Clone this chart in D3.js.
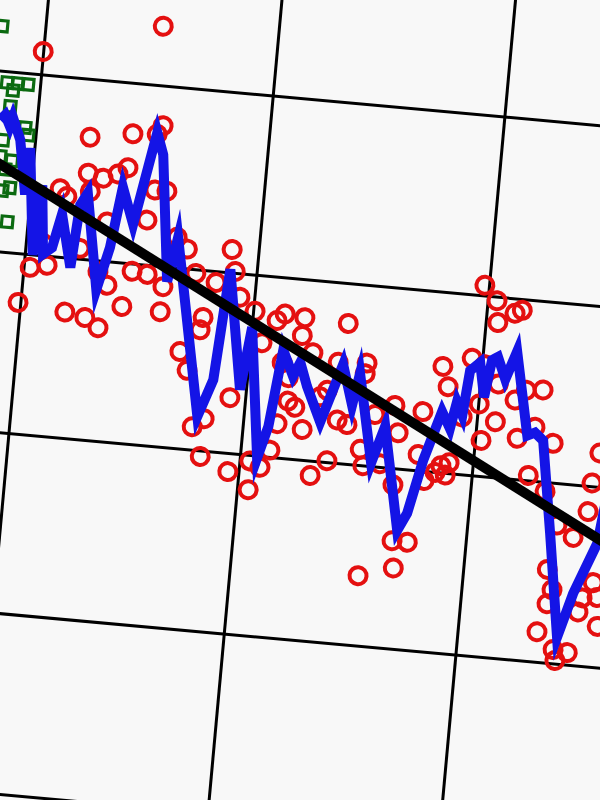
<!DOCTYPE html>
<html><head><meta charset="utf-8">
<script src="https://cdn.jsdelivr.net/npm/d3@7"></script>
<style>html,body{margin:0;padding:0;background:#f8f8f8;overflow:hidden}</style>
</head><body><svg id="c" width="600" height="800"></svg>
<script>
// grid ticks
const gridYears = [1850, 1900, 1950, 2000, 2050];
const gridValues = [-3, -2, -1, 0, 1, 2, 3];

// red circle series (year, value)
const redYears = [1899.9,1899.4,1901.3,1904.9,1903.6,1906.2,1907.8,1909.6,1914.0,1917.0,1911.6,1911.9,1911.6,1912.7,1915.9,1918.1,1915.2,1916.9,1918.3,1920.3,1920.7,1921.7,1923.2,1925.4,1926.5,1925.9,1927.0,1925.1,1930.0,1930.1,1926.5,1929.1,1932.2,1934.6,1935.0,1936.9,1936.9,1939.1,1941.5,1941.4,1938.9,1939.3,1941.4,1944.2,1945.3,1946.8,1946.6,1947.6,1952.3,1950.3,1952.4,1952.1,1954.4,1956.2,1955.2,1956.8,1960.9,1957.1,1958.7,1959.1,1960.7,1957.2,1962.7,1961.1,1963.5,1965.9,1968.6,1965.3,1969.1,1970.5,1975.3,1975.1,1970.0,1972.2,1967.3,1975.5,1976.4,1980.0,1983.2,1983.3,1978.0,1977.5,1984.9,1984.1,1987.4,1982.1,1988.2,1988.0,1993.1,1994.8,1989.8,1992.0,1991.6,1993.1,1997.7,2000.6,1996.7,2000.1,2001.2,1999.0,2001.9,2002.5,2006.0,2007.5,2003.8,2003.9,2007.7,1994.2,2009.9,2013.5,2008.9,2012.5,2016.7,2012.0,2015.9,2025.8,2025.5,2019.1,2022.8,2017.9,2019.3,2018.5,2016.9,2020.7,2023.8,2021.3,2025.9,2025.3,2028.0,2029.7,2029.1,2026.9];
const redValues = [2.13,0.73,0.93,0.95,1.07,1.38,1.34,0.70,0.68,0.63,1.06,1.48,1.68,1.38,0.94,0.87,1.46,1.22,1.49,1.53,1.72,0.76,0.96,1.25,0.95,1.73,1.78,2.33,0.75,0.89,1.42,1.42,1.17,1.11,0.54,0.44,0.98,0.13,0.18,-0.03,0.67,0.74,0.94,1.13,1.01,0.87,0.31,-0.10,-0.19,0.80,0.63,-0.03,-0.06,0.04,0.76,0.80,0.69,0.53,0.45,0.32,0.29,0.19,0.17,0.79,0.60,0.36,0.01,-0.08,0.56,0.78,0.57,0.51,0.24,0.22,0.40,0.09,0.00,0.02,-0.09,0.20,0.29,-0.61,-0.55,-0.40,-0.40,0.35,0.33,0.09,0.04,0.06,-0.05,0.00,0.59,0.48,0.65,0.62,0.32,0.40,0.20,1.06,0.98,0.86,0.92,0.94,0.52,0.31,0.44,-0.01,0.50,0.51,0.23,0.30,0.22,0.03,-0.05,0.02,-0.14,-0.23,-0.29,-0.48,-0.59,-0.67,-0.83,-0.92,-0.93,-0.98,-0.62,-0.70,-0.53,-0.77,-0.61,0.19];

// green square series
const greenYears = [1890.6,1892.8,1894.2,1895.1,1897.3,1893.9,1897.5,1898.3,1893.0,1892.7,1895.3,1894.0,1893.8,1895.4,1895.5];
const greenValues = [2.25,1.94,1.90,1.94,1.94,1.81,1.70,1.66,1.62,1.53,1.51,1.46,1.34,1.36,1.17];

// blue line series
const blueYears = [1892.0,1893.0,1894.2,1894.7,1896.7,1898.8,1899.0,1901.6,1902.3,1903.8,1905.6,1907.1,1909.9,1910.8,1912.2,1915.9,1918.0,1919.6,1922.5,1925.9,1927.6,1930.9,1932.4,1940.0,1942.7,1944.2,1948.6,1950.0,1953.6,1955.4,1957.1,1959.7,1961.0,1962.9,1966.4,1970.2,1972.9,1974.0,1978.1,1980.4,1985.0,1986.8,1989.2,1992.3,1994.3,1995.3,1996.7,1997.5,1999.5,2001.0,2002.0,2003.2,2005.2,2007.2,2011.0,2012.6,2014.5,2017.8,2021.3,2023.9,2028.1,2029.0];
const blueValues = [1.73,1.76,1.70,1.75,1.63,1.33,1.59,1.00,1.39,1.01,1.05,1.24,0.95,1.30,1.37,0.84,1.08,1.42,1.22,1.74,1.62,0.92,1.17,0.19,0.40,1.02,0.36,0.71,-0.01,0.17,0.60,0.46,0.54,0.41,0.22,0.55,0.33,0.51,0.02,0.23,-0.34,-0.24,0.06,0.34,0.25,0.40,0.33,0.58,0.63,0.44,0.65,0.67,0.55,0.71,0.25,0.27,0.23,-0.28,-0.85,-0.60,-0.31,-0.10];

// linear trend endpoints
const trendYears = [1880, 2040];
const trendValues = [1.654, -0.440];

const x = d3.scaleLinear().domain([1900, 2000]).range([48.2, 513.4]);
const y = d3.scaleLinear().domain([-2, 2]).range([791.2, 70.8]);

const svg = d3.select('#c');
svg.append('rect').attr('width', 600).attr('height', 800).attr('fill', '#f8f8f8');
const g = svg.append('g').attr('transform', 'rotate(5.2)');

// grid
g.append('g').selectAll('line').data(gridYears).join('line')
  .attr('x1', d => x(d)).attr('x2', d => x(d))
  .attr('y1', -300).attr('y2', 1100)
  .attr('stroke', '#000').attr('stroke-width', 3);
g.append('g').selectAll('line').data(gridValues).join('line')
  .attr('x1', -300).attr('x2', 1000)
  .attr('y1', d => y(d)).attr('y2', d => y(d))
  .attr('stroke', '#000').attr('stroke-width', 3);

// green squares
const greenData = greenYears.map((yr, i) => [yr, greenValues[i]]);
const s = 11;
g.append('g').selectAll('rect').data(greenData).join('rect')
  .attr('x', d => x(d[0]) - s / 2).attr('y', d => y(d[1]) - s / 2)
  .attr('width', s).attr('height', s)
  .attr('fill', 'none').attr('stroke', '#0b6a10').attr('stroke-width', 3.2);

// red circles
const redData = redYears.map((yr, i) => [yr, redValues[i]]);
g.append('g').selectAll('circle').data(redData).join('circle')
  .attr('cx', d => x(d[0])).attr('cy', d => y(d[1])).attr('r', 8.5)
  .attr('fill', 'none').attr('stroke', '#e41010').attr('stroke-width', 4);

// blue line
const blueData = blueYears.map((yr, i) => [yr, blueValues[i]]);
g.append('path').datum(blueData)
  .attr('d', d3.line().x(d => x(d[0])).y(d => y(d[1])))
  .attr('fill', 'none').attr('stroke', '#1414e6').attr('stroke-width', 10)
  .attr('stroke-linejoin', 'miter').attr('stroke-miterlimit', 6);

// trend line
const trendData = trendYears.map((yr, i) => [yr, trendValues[i]]);
g.append('path').datum(trendData)
  .attr('d', d3.line().x(d => x(d[0])).y(d => y(d[1])))
  .attr('fill', 'none').attr('stroke', '#000').attr('stroke-width', 10);
</script>
</body></html>
